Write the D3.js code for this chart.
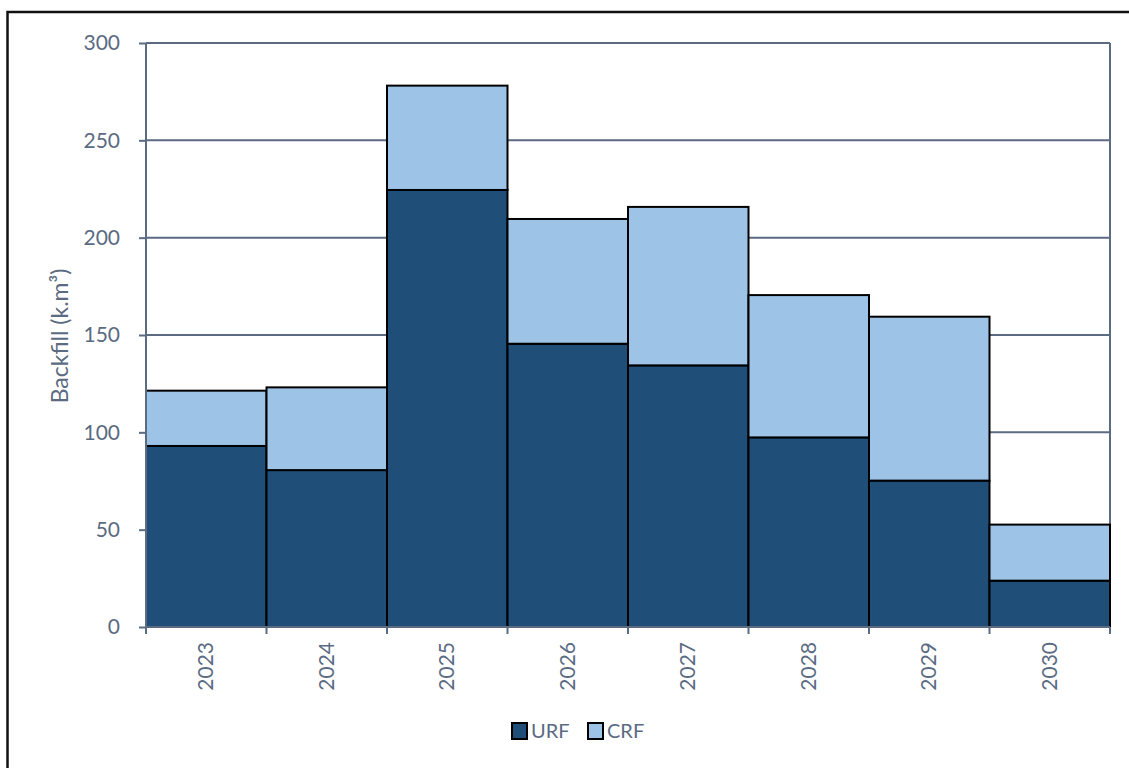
<!DOCTYPE html>
<html>
<head>
<meta charset="utf-8">
<script src="https://cdn.jsdelivr.net/npm/d3@7"></script>
<style>
  html, body { margin: 0; padding: 0; background: #ffffff; }
  svg { display: block; }
  text { font-family: Lato, "Open Sans", sans-serif; fill: #5b6b82; }
</style>
</head>
<body>
<script>
// Backfill volumes per year, stacked by fill type (thousand m³)
const years = ["2023", "2024", "2025", "2026", "2027", "2028", "2029", "2030"];
const urf = [93, 80.6, 224.5, 145.5, 134.4, 97.4, 75.2, 23.8];
const crf = [28.4, 42.5, 53.6, 64.1, 81.4, 73.1, 84.2, 28.8];
const yTicks = [0, 50, 100, 150, 200, 250, 300];
const seriesNames = ["URF", "CRF"];
const seriesColors = ["#1f4e79", "#9dc3e6"];

const W = 1129, H = 768;
const plot = { left: 146, right: 1110, top: 43, bottom: 627 };
const axisColor = "#5b6b82";

const svg = d3.select("body").append("svg").attr("width", W).attr("height", H);

// outer chart frame
svg.append("rect")
  .attr("x", 7.5).attr("y", 12).attr("width", W + 10).attr("height", H + 10)
  .attr("fill", "none").attr("stroke", "#111").attr("stroke-width", 2.5);

const x = d3.scaleBand().domain(years).range([plot.left, plot.right]).padding(0);
const y = d3.scaleLinear().domain([0, 300]).range([plot.bottom, plot.top]);

// horizontal gridlines
svg.append("g").selectAll("line").data(yTicks.filter(v => v > 0)).join("line")
  .attr("x1", plot.left).attr("x2", plot.right)
  .attr("y1", d => y(d)).attr("y2", d => y(d))
  .attr("stroke", axisColor).attr("stroke-width", 2);

// right plot border
svg.append("line")
  .attr("x1", plot.right).attr("x2", plot.right)
  .attr("y1", plot.top).attr("y2", plot.bottom)
  .attr("stroke", axisColor).attr("stroke-width", 2);

// stacked bars
const rows = years.map((yr, i) => ({ year: yr, URF: urf[i], CRF: crf[i] }));
const stacked = d3.stack().keys(seriesNames)(rows);
svg.append("g").selectAll("g").data(stacked).join("g")
  .attr("fill", (d, i) => seriesColors[i])
  .selectAll("rect").data(d => d).join("rect")
  .attr("x", d => x(d.data.year))
  .attr("width", x.bandwidth())
  .attr("y", d => y(d[1]))
  .attr("height", d => y(d[0]) - y(d[1]))
  .attr("stroke", "#000").attr("stroke-width", 2);

// y axis
const yAxis = d3.axisLeft(y).tickValues(yTicks).tickSize(7).tickPadding(19);
const gy = svg.append("g").attr("transform", `translate(${plot.left},0)`).call(yAxis);
gy.select(".domain").attr("stroke", axisColor).attr("stroke-width", 2)
  .attr("d", `M0,${plot.top}V${plot.bottom}`);
gy.selectAll(".tick line").attr("stroke", axisColor).attr("stroke-width", 2);
gy.selectAll(".tick text").attr("font-size", 21).attr("fill", axisColor)
  .style("font-family", "Lato, sans-serif");

// x axis: ticks sit on category boundaries, labels rotated
const gx = svg.append("g").attr("transform", `translate(0,${plot.bottom})`);
gx.append("line").attr("x1", plot.left).attr("x2", plot.right)
  .attr("stroke", axisColor).attr("stroke-width", 2);
const bounds = years.map(d => x(d)).concat([x(years[years.length - 1]) + x.bandwidth()]);
gx.selectAll("line.tk").data(bounds).join("line").attr("class", "tk")
  .attr("x1", d => d).attr("x2", d => d).attr("y1", 0).attr("y2", 7)
  .attr("stroke", axisColor).attr("stroke-width", 2);
gx.selectAll("text").data(years).join("text")
  .attr("transform", d => `translate(${x(d) + x.bandwidth() / 2 + 7},15) rotate(-90)`)
  .attr("text-anchor", "end")
  .attr("font-size", 21)
  .text(d => d);

// y axis title
svg.append("text")
  .attr("transform", `translate(68,336) rotate(-90)`)
  .attr("text-anchor", "middle")
  .attr("font-size", 23)
  .text("Backfill (k.m³)");

// legend
const legend = svg.append("g").attr("transform", "translate(512,723)");
const legendX = [0, 76];
seriesNames.forEach((name, i) => {
  const g = legend.append("g").attr("transform", `translate(${legendX[i]},0)`);
  g.append("rect").attr("x", 0).attr("y", 0).attr("width", 15).attr("height", 16)
    .attr("fill", seriesColors[i]).attr("stroke", "#000").attr("stroke-width", 2);
  g.append("text").attr("x", 19).attr("y", 15).attr("font-size", 20).text(name);
});
</script>
</body>
</html>
